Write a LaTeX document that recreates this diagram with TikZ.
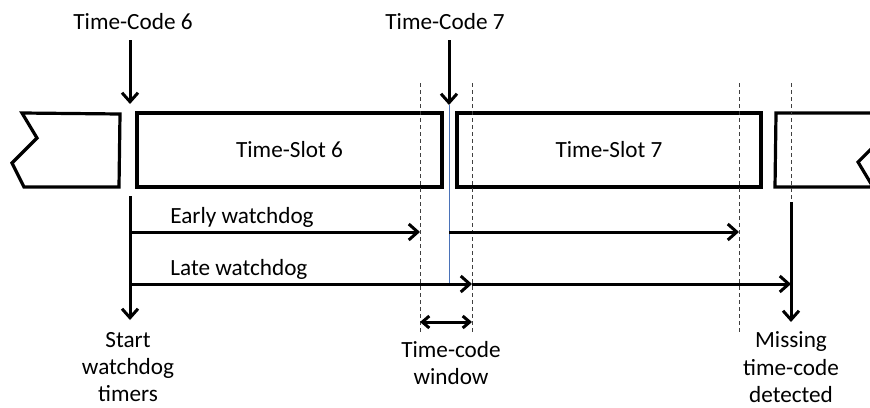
\documentclass[tikz,border=0pt]{standalone}
\usepackage{fontspec}
\setmainfont{Carlito}
\usetikzlibrary{arrows.meta,positioning}
\definecolor{ink}{HTML}{000000}
\definecolor{guidegray}{HTML}{404040}
\definecolor{tcblue}{HTML}{4A72B8}

\tikzset{
  txt/.style={font=\fontsize{11.6}{13.7}\selectfont,align=center,inner sep=0pt,text=ink},
  slotbox/.style={txt,draw=ink,line width=1.6pt,minimum height=37pt},
  slotedge/.style={draw=ink,line width=1.6pt,line join=miter},
  guide/.style={draw=guidegray,line width=0.45pt,dash pattern=on 2pt off 1.5pt},
  timer/.style={draw=ink,line width=1.5pt,
    -{Straight Barb[length=4.5pt,width=8pt,line width=1.5pt]}},
  window/.style={draw=ink,line width=1.5pt,
    {Straight Barb[length=3.5pt,width=6pt,line width=1.5pt]}-{Straight Barb[length=3.5pt,width=6pt,line width=1.5pt]}},
}

\begin{document}
\begin{tikzpicture}[x=0.5pt,y=-0.5pt]
  \useasboundingbox (0,0) rectangle (870,407);
  \clip (0,0) rectangle (870,407);

  % Slots (partial ones cut by the frame).
  \draw[slotedge] (22,113) -- (120,114) -- (119,187) -- (24,187)
    -- (12,163) -- (37,138) -- cycle;
  \node[slotbox,minimum width=152.5pt] (slot6) at (289.5,150) {Time-Slot 6};
  \node[slotbox,minimum width=152pt] (slot7) at (609,150) {Time-Slot 7};
  \draw[slotedge] (776,113) -- (907,113) -- (858,162) -- (873,187)
    -- (775,187) -- cycle;

  % Window guides.
  \foreach \gx/\gy in {420/335,472/335,739/335,791/200}{
    \draw[guide] (\gx,83) -- (\gx,\gy);
  }

  % Time-code arrivals.
  \coordinate (tc6hit) at (130,104);
  \coordinate (tc7hit) at (449,105);
  \node[txt,anchor=south,outer ysep=5pt] (tc6) at (133,40) {Time-Code 6};
  \node[txt,anchor=south,outer ysep=5pt] (tc7) at (445,40) {Time-Code 7};
  \draw[timer] (tc6.south -| tc6hit) -- (tc6hit);
  \draw[timer] (tc7.south -| tc7hit) -- (tc7hit);

  % Watchdog timers.
  \coordinate (start) at (130,196);
  \coordinate (early) at (130,232);
  \coordinate (late) at (130,284);
  \coordinate (earlyend) at (420,232);
  \coordinate (earlyrst) at (449,232);
  \coordinate (earlynext) at (739,232);
  \coordinate (latewin) at (472,284);
  \coordinate (lateend) at (791,284);
  \coordinate (tc7low) at (449,284);
  \coordinate (miss) at (791,202);

  \draw[tcblue,line width=0.5pt] (tc7hit) -- (tc7low);
  \draw[timer] (early) -- (earlyend);
  \draw[timer] (earlyrst) -- (earlynext);
  \draw[timer] (late) -- (latewin);
  \draw[timer] (latewin) -- (lateend);
  \node[txt,anchor=base west] (earlylbl) at (170,223) {Early watchdog};
  \node[txt,anchor=base west] (latelbl) at (170,275) {Late watchdog};

  \node[txt,anchor=north,outer ysep=6pt] (startlbl) at (128,320)
    {Start\\watchdog\\timers};
  \draw[timer] (start) -- (startlbl.north -| start);

  \node[txt,anchor=north,outer ysep=5pt] (misslbl) at (791,322)
    {Missing\\time-code\\detected};
  \draw[timer] (miss) -- (misslbl.north -| miss);

  % Time-code window.
  \coordinate (win0) at (420,322);
  \coordinate (win1) at (472,322);
  \draw[window] (win0) -- (win1);
  \node[txt,anchor=north] (winlbl) at (451,341) {Time-code\\window};
\end{tikzpicture}
\end{document}
